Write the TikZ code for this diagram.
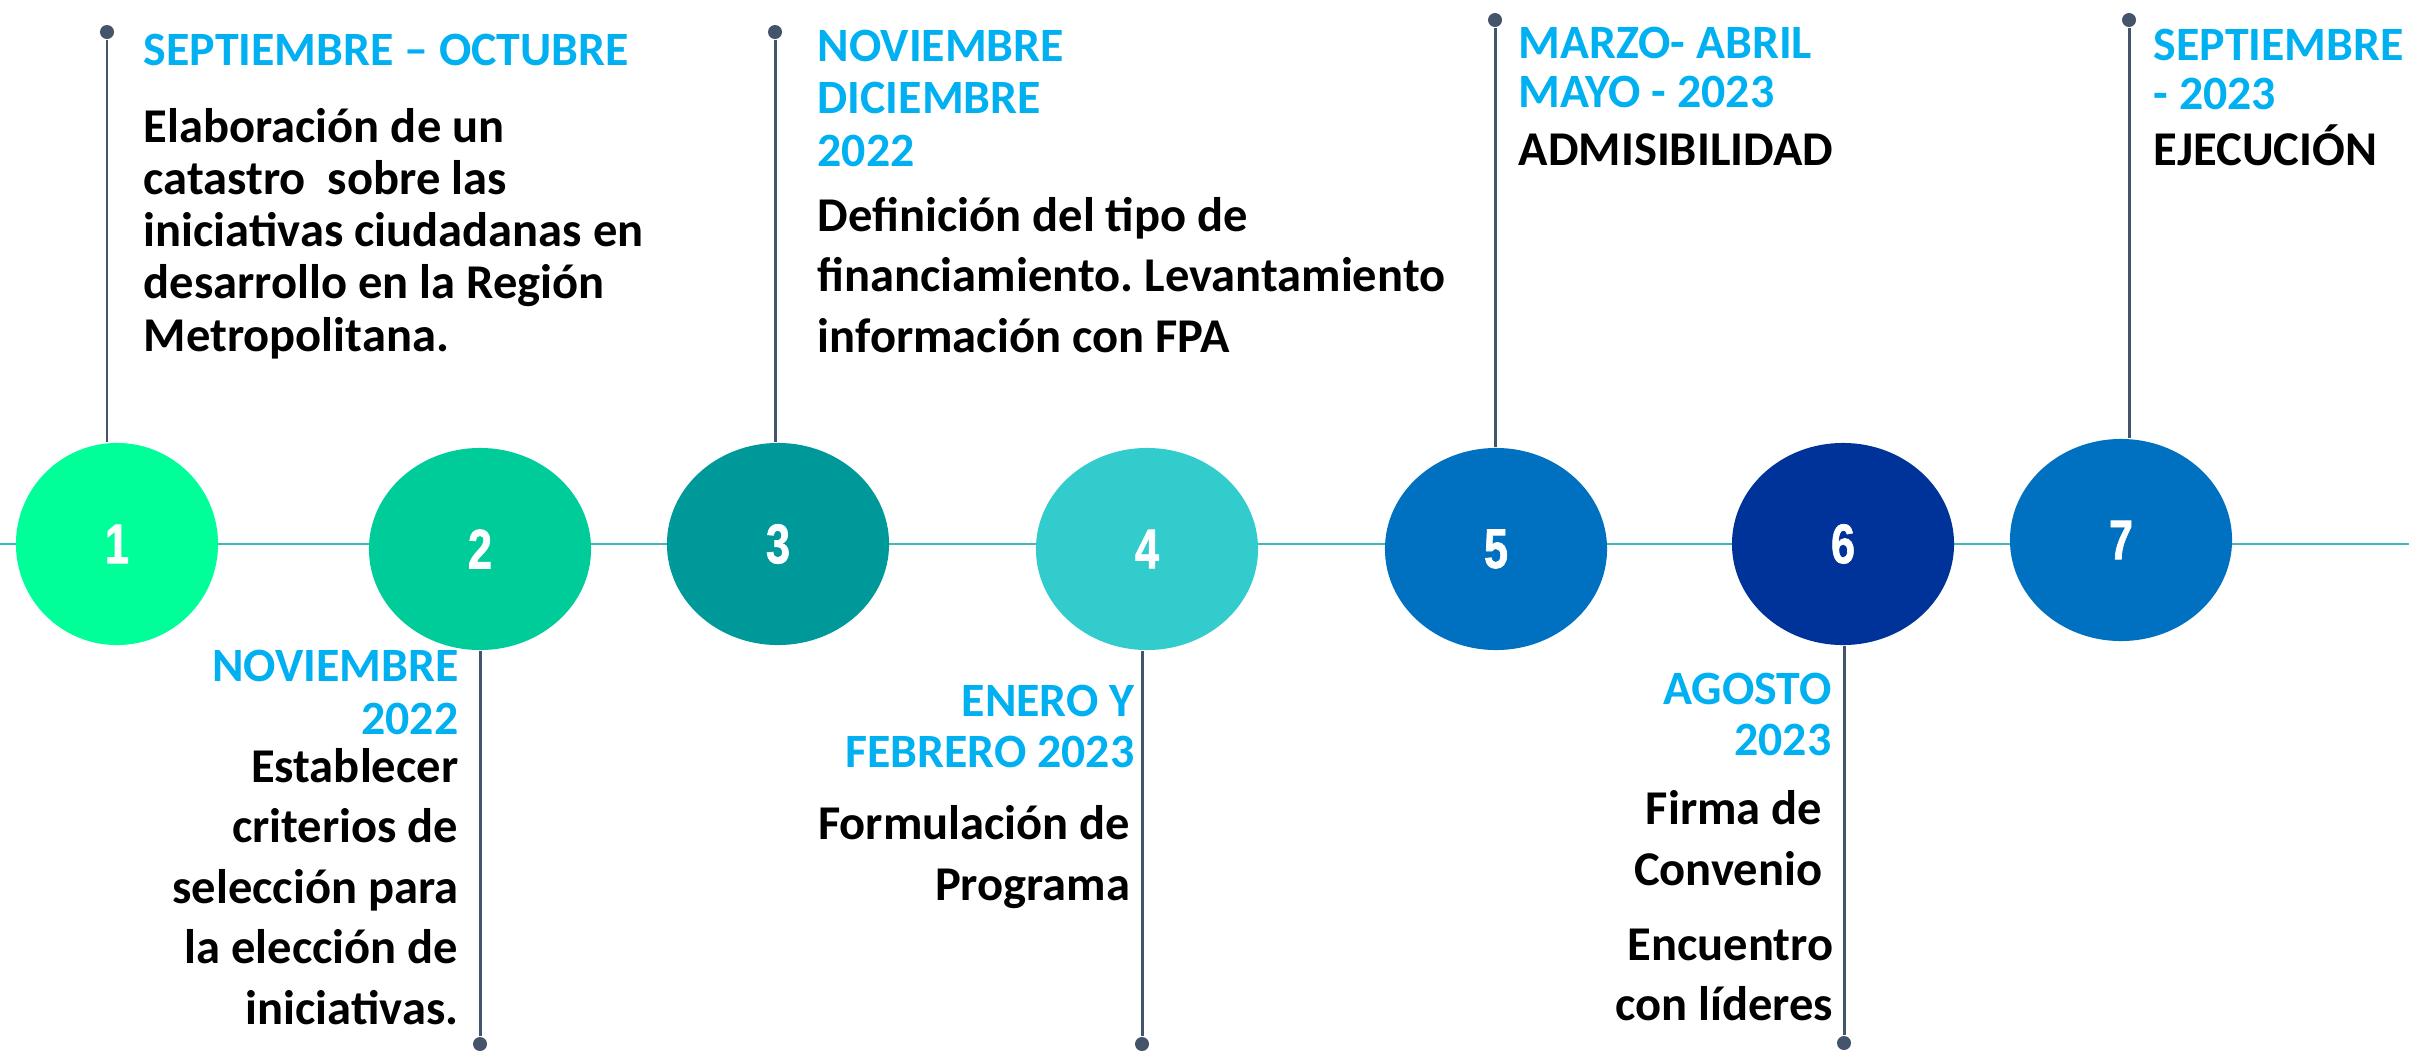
\documentclass[tikz,border=0pt]{standalone}
\usepackage{fontspec}
\setmainfont{Carlito}
\newfontfamily\numfont[FakeStretch=0.77,FakeBold=1.2]{Liberation Sans}
\usetikzlibrary{shapes.geometric}
\definecolor{fecha}{HTML}{00B0F0}
\definecolor{varilla}{HTML}{44546A}
\definecolor{eje}{HTML}{3DBABA}
\definecolor{uno}{HTML}{00FF99}
\definecolor{dos}{HTML}{00CC99}
\definecolor{tres}{HTML}{009999}
\definecolor{cuatro}{HTML}{33CCCC}
\definecolor{cinco}{HTML}{0070C0}
\definecolor{seis}{HTML}{003399}
\definecolor{siete}{HTML}{0070C0}
\frenchspacing

\begin{document}
\begin{tikzpicture}[x=0.01cm,y=-0.01cm,
		hito/.style={ellipse,inner sep=0pt,minimum width=2.22cm,minimum height=2.02cm,text=white,font=\numfont\bfseries\fontsize{15.9}{16}\selectfont},
		punto/.style={circle,fill=varilla,inner sep=0pt,minimum size=0.14cm},
		varita/.style={draw=varilla,line width=0.85pt},
		fechas/.style={text=fecha,inner sep=0pt,font=\fontsize{13.6}{#1}\selectfont\bfseries},
		texto/.style={text=black,inner sep=0pt,font=\fontsize{13.8}{#1}\selectfont\bfseries}]
	\useasboundingbox (0,0) rectangle (2409,1051);
	\coordinate (izq) at (0,544);
	\coordinate (der) at (2409,544);
	\draw[eje,line width=0.6pt] (izq) -- (der);

	\node[hito,fill=uno,minimum width=2.02cm] (c1) at (117,544) {1};
	\node[hito,fill=dos] (c2) at (480,549) {2};
	\node[hito,fill=tres] (c3) at (778,544) {3};
	\node[hito,fill=cuatro] (c4) at (1147,549) {4};
	\node[hito,fill=cinco] (c5) at (1496,549) {5};
	\node[hito,fill=seis] (c6) at (1843,544) {6};
	\node[hito,fill=siete] (c7) at (2121,540) {7};

	\node[punto] (d1) at (107,32) {};
	\node[punto] (d3) at (775,32) {};
	\node[punto] (d5) at (1495,20) {};
	\node[punto] (d7) at (2129,20) {};
	\node[punto] (d2) at (480,1044) {};
	\node[punto] (d4) at (1142,1044) {};
	\node[punto] (d6) at (1844,1043) {};
	\draw[varita] (d1) -- (d1 |- c1.north);
	\draw[varita] (d3) -- (d3 |- c3.north);
	\draw[varita] (d5) -- (d5 |- c5.north);
	\draw[varita] (d7) -- (d7 |- c7.north);
	\draw[varita] (d2) -- (d2 |- c2.south);
	\draw[varita] (d4) -- (d4 |- c4.south);
	\draw[varita] (d6) -- (d6 |- c6.south);

	\node[fechas=14.8,anchor=base west] (f1) at (143,65) {SEPTIEMBRE – OCTUBRE};
	\node[texto=14.8,anchor=base west,align=left] (t1) at (143,351) {Elaboración de un\\catastro\ \ sobre las\\iniciativas ciudadanas en\\desarrollo en la Región\\Metropolitana.};

	\node[fechas=14.8,anchor=base east,align=right] (f2) at (459,734) {NOVIEMBRE\\2022};
	\node[texto=17.2,anchor=base east,align=right] (t2) at (459,1024) {Establecer\\criterios de\\selección para\\la elección de\\iniciativas.};

	\node[fechas=14.8,anchor=base west,align=left] (f3) at (817,166) {NOVIEMBRE\\DICIEMBRE\\2022};
	\node[texto=17.1,anchor=base west,align=left] (t3) at (817,352) {Definición del tipo de\\financiamiento. Levantamiento\\información con FPA};

	\node[fechas=14.5,anchor=base east,align=right] (f4) at (1135,767) {ENERO Y\\FEBRERO 2023};
	\node[texto=17.1,anchor=base east,align=right] (t4) at (1131,900) {Formulación de\\Programa};

	\node[fechas=13.7,anchor=base west,align=left] (f5) at (1518,107) {MARZO- ABRIL\\MAYO - 2023};
	\node[texto=14.8,anchor=base west] (t5) at (1518,165) {ADMISIBILIDAD};

	\node[fechas=14.5,anchor=base east,align=right] (f6) at (1832,755) {AGOSTO\\2023};
	\node[texto=17.3,anchor=base east,align=right] (t6) at (1823,885) {Firma de\\Convenio};
	\node[texto=16.8,anchor=base east,align=right] (t6b) at (1834,1020) {Encuentro\\con líderes};

	\node[fechas=13.7,anchor=base west,align=left] (f7) at (2153,109) {SEPTIEMBRE\\- 2023};
	\node[texto=14.8,anchor=base west] (t7) at (2153,165) {EJECUCIÓN};
\end{tikzpicture}
\end{document}
